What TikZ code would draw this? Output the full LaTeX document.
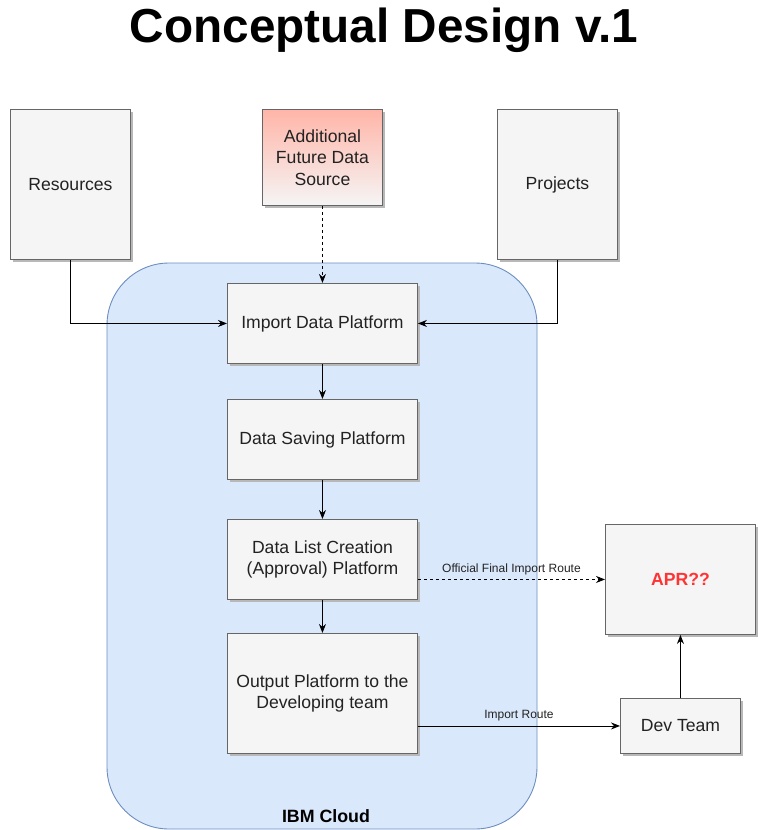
\documentclass[tikz,border=0pt]{standalone}
\usepackage{fontspec}
\setmainfont{Liberation Sans}
\usetikzlibrary{arrows.meta,shadows,calc}
\definecolor{boxfill}{HTML}{F5F5F5}
\definecolor{boxline}{HTML}{666666}
\definecolor{cloudfill}{HTML}{DAE8FC}
\definecolor{cloudline}{HTML}{6C8EBF}
\definecolor{salmon}{HTML}{FFB5A8}
\definecolor{aprred}{HTML}{FF3333}
\definecolor{txt}{HTML}{222222}
\tikzset{
  boxnode/.style={draw=boxline, fill=boxfill, line width=0.9pt, anchor=north west,
    inner sep=2pt, align=center, text=txt, font=\fontsize{17.6}{21.5}\selectfont,
    drop shadow={shadow xshift=3pt, shadow yshift=-3pt, fill=black!28, opacity=1}},
  conn/.style={line width=0.9pt, -{Stealth[length=9pt,width=7pt]}},
  lbl/.style={font=\fontsize{12}{14}\selectfont, text=txt}
}
\begin{document}
\begin{tikzpicture}[x=1pt,y=-1pt]
\useasboundingbox (0,0) rectangle (771,830);
% title
\node (title) at (384,30) {\fontsize{47.7}{52}\selectfont\bfseries Conceptual Design v.1};
% cloud
\draw[fill=cloudfill, draw=cloudline, line width=0.9pt, rounded corners=62pt] (107,263) rectangle (537,829);
\node (cloud) at (326,816) {\fontsize{17.8}{20}\selectfont\bfseries IBM Cloud};
% top boxes
\node[boxnode, minimum width=120pt, minimum height=150pt] (res) at (10,109) {Resources};
\node[boxnode, minimum width=120pt, minimum height=96pt, draw=boxline, top color=salmon, bottom color=boxfill] (add) at (262,109) {Additional\\Future Data\\Source};
\node[boxnode, minimum width=120pt, minimum height=150pt] (proj) at (497,109) {Projects};
% platform boxes
\node[boxnode, minimum width=190pt, minimum height=80pt] (imp) at (227,283) {Import Data Platform};
\node[boxnode, minimum width=190pt, minimum height=80pt] (sav) at (227,399) {Data Saving Platform};
\node[boxnode, minimum width=190pt, minimum height=80pt] (dl) at (227,519) {Data List Creation\\(Approval) Platform};
\node[boxnode, minimum width=190pt, minimum height=120pt] (out) at (227,633) {Output Platform to the\\Developing team};
% right boxes
\node[boxnode, minimum width=150pt, minimum height=110pt, text=aprred, font=\fontsize{17.6}{20}\selectfont\bfseries] (apr) at (605,524) {APR??};
\node[boxnode, minimum width=120pt, minimum height=55pt] (dev) at (620,698) {Dev Team};
% connectors
\draw[conn] (res.south) |- (imp.west);
\draw[conn] (proj.south) |- (imp.east);
\draw[conn, dashed] (add.south) -- (imp.north);
\draw[conn] (imp.south) -- (sav.north);
\draw[conn] (sav.south) -- (dl.north);
\draw[conn] (dl.south) -- (out.north);
\draw[conn, dashed] (apr.west -| dl.east) -- node[lbl, above=1pt] {Official Final Import Route} (apr.west);
\draw[conn] (dev.west -| out.east) -- node[lbl, above=1pt] {Import Route} (dev.west);
\draw[conn] (dev.north) -- (apr.south);
\end{tikzpicture}
\end{document}
